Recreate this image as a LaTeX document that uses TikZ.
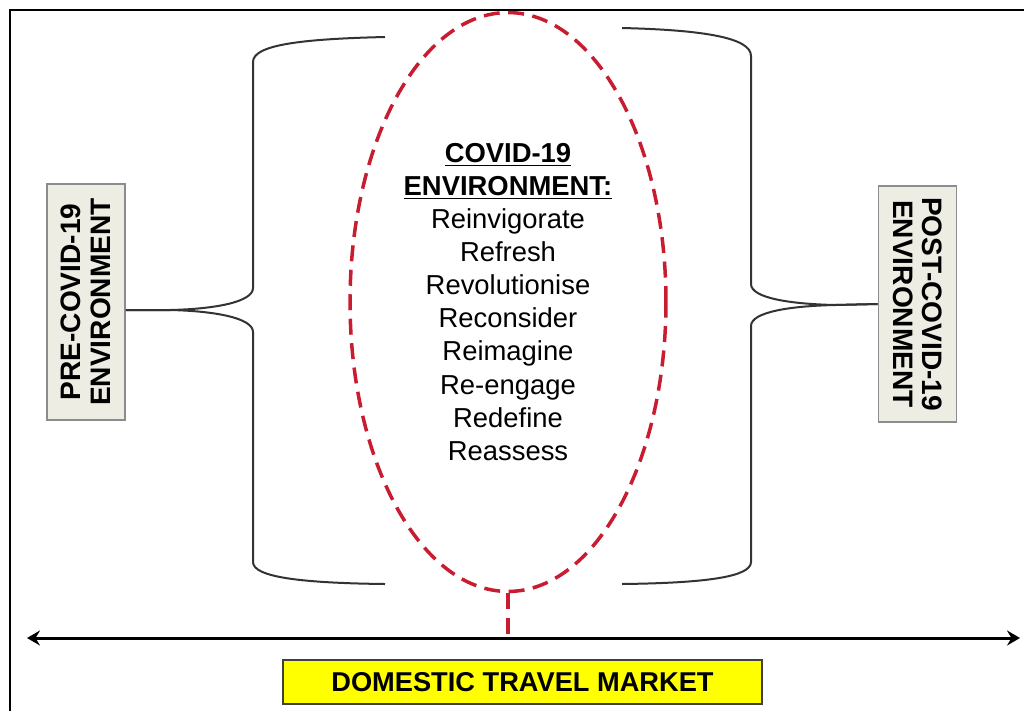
\documentclass[tikz,border=0pt]{standalone}
\usepackage{fontspec}
\setmainfont{Liberation Sans}
\usepackage{tikz}
\usetikzlibrary{shapes.geometric}
\usetikzlibrary{calc}
\usetikzlibrary{arrows.meta}
\definecolor{covidred}{RGB}{200,28,48}
\definecolor{envgrey}{RGB}{237,237,228}
\definecolor{marketyellow}{RGB}{255,255,0}
\tikzset{every picture/.style={line width=1pt},
  curly/.style={line width=0.04cm, draw=black!80},
  envbox/.style={draw=black!45, fill=envgrey, line width=0.035cm, minimum width=4.72cm, minimum height=1.56cm, inner sep=0pt, align=center, font=\fontsize{16}{16.8}\selectfont\bfseries},
  redlink/.style={draw=covidred, line width=0.07cm, dash pattern=on 0.32cm off 0.17cm}}

\begin{document}
\begin{tikzpicture}[x=0.02cm, y=-0.02cm]
\useasboundingbox (0,0) rectangle (1024,711);
\draw[line width=0.05cm] (10,711) -- (10,10) -- (1024,10);

\node (covid) at (508,302) [ellipse, redlink, minimum width=6.32cm, minimum height=11.58cm, inner sep=0pt] {};
\node (words) at (covid.center) [align=center, font=\fontsize{15.6}{18.8}\selectfont] {\textbf{\underline{COVID-19}}\\\textbf{\underline{ENVIRONMENT:}}\\Reinvigorate\\Refresh\\Revolutionise\\Reconsider\\Reimagine\\Re-engage\\Redefine\\Reassess};
\node (pre) at (86,302) [envbox, rotate=90] {PRE-COVID-19\\ENVIRONMENT};
\node (post) at (917.5,304) [envbox, rotate=-90] {POST-COVID-19\\ENVIRONMENT};
\node (market) at (522.5,682) [draw=black!75, fill=marketyellow, line width=0.03cm, minimum width=9.58cm, minimum height=0.88cm, font=\fontsize{15.5}{18}\selectfont\bfseries] {DOMESTIC TRAVEL MARKET};

\coordinate (west) at (27,638);
\coordinate (east) at (1020,638);
\draw[{Stealth[length=0.26cm,width=0.3cm,inset=0.09cm]}-{Stealth[length=0.26cm,width=0.3cm,inset=0.09cm]}, line width=0.06cm] (west) -- (east);
\draw[redlink] (covid.south) -- (covid.south |- west);

% braces
\draw[curly] (385,37) .. controls (300,39) and (253,45) .. (253,62) -- (253,288) .. controls (253,302) and (215,309) .. (170,310) -- ([yshift=-0.16cm]pre.south);
\draw[curly] ([yshift=-0.16cm]pre.south) -- (170,310) .. controls (215,311) and (253,318) .. (253,332) -- (253,562) .. controls (253,577) and (300,583) .. (385,584);
\draw[curly] (622,28) .. controls (705,30) and (751,38) .. (751,56) -- (751,284) .. controls (751,298) and (790,304) .. (835,305) -- (post.south);
\draw[curly] (post.south) -- (835,305) .. controls (790,306) and (751,312) .. (751,326) -- (751,562) .. controls (751,577) and (705,583) .. (622,584);
\end{tikzpicture}
\end{document}
